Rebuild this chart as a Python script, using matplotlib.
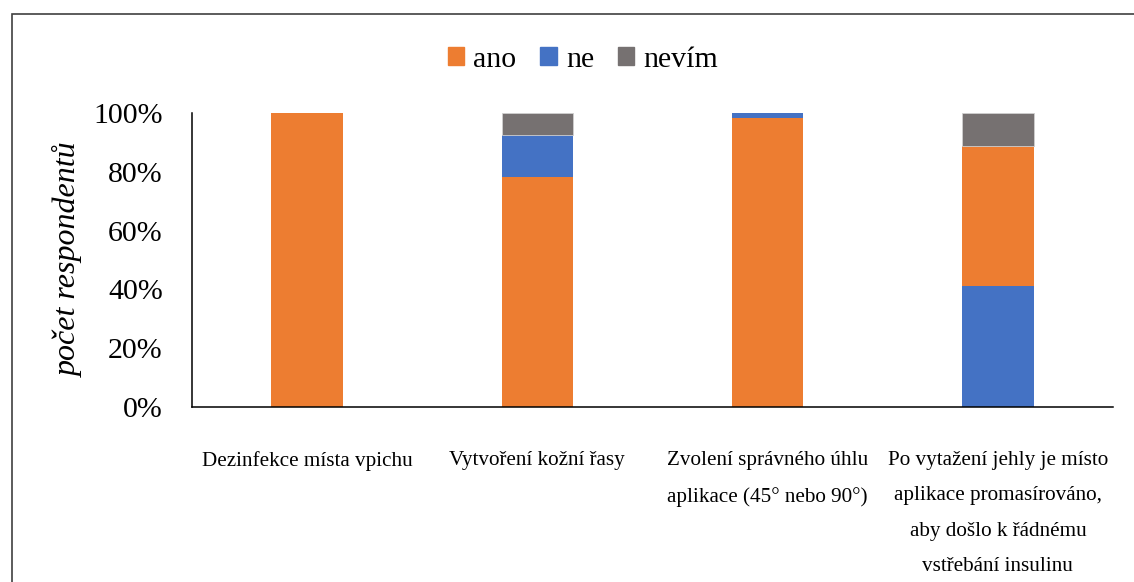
import matplotlib
matplotlib.use("Agg")
import matplotlib.pyplot as plt
from matplotlib.patches import Rectangle
import numpy as np

plt.rcParams["font.family"] = ["Liberation Serif", "DejaVu Serif"]

categories = [
    "Dezinfekce místa vpichu",
    "Vytvoření kožní řasy",
    "Zvolení správného úhlu\naplikace (45° nebo 90°)",
    "Po vytažení jehly je místo\naplikace promasírováno,\naby došlo k řádnému\nvstřebání insulinu",
]
series_names = ["ano", "ne", "nevím"]
ano = [1.00, 0.782, 0.982, 0.473]
ne = [0.00, 0.143, 0.018, 0.413]
nevim = [0.00, 0.075, 0.00, 0.114]
# stacking order from the bottom for each bar (last bar starts with "ne")
stack_order = [
    ["ano", "ne", "nevím"],
    ["ano", "ne", "nevím"],
    ["ano", "ne", "nevím"],
    ["ne", "ano", "nevím"],
]

values = {"ano": ano, "ne": ne, "nevím": nevim}
colors = {"ano": "#ED7D31", "ne": "#4472C4", "nevím": "#767171"}

fig = plt.figure(figsize=(11.34, 5.82), dpi=100)
ax = fig.add_axes([0.1693, 0.3007, 0.8122, 0.5052])

x = np.arange(len(categories))
width = 0.31
for i in x:
    bottom = 0.0
    for name in stack_order[i]:
        v = values[name][i]
        if v > 0:
            ax.bar(i, v, width, bottom=bottom, color=colors[name],
                   edgecolor="#d0d0d0" if name == "nevím" else "none",
                   linewidth=0.6)
        bottom += v

ax.set_xlim(-0.5, len(categories) - 0.5)
ax.set_ylim(0, 1)
ax.set_yticks(np.linspace(0, 1, 6))
ax.set_yticklabels([f"{int(round(t * 100))}%" for t in np.linspace(0, 1, 6)], fontsize=21.5)
ax.tick_params(axis="y", length=0, pad=21)
ax.set_xticks(x)
ax.set_xticklabels(categories, fontsize=15.2, linespacing=2.17)
ax.tick_params(axis="x", length=0, pad=31.5)
ax.set_ylabel("počet respondentů", fontsize=23, style="italic", labelpad=7)

for s in ("top", "right"):
    ax.spines[s].set_visible(False)
for s in ("left", "bottom"):
    ax.spines[s].set_linewidth(1.1)
    ax.spines[s].set_color("black")

handles = [Rectangle((0, 0), 1, 1, color=colors[n]) for n in series_names]
fig.legend(handles, series_names, loc="center", bbox_to_anchor=(583 / 1134, 1 - 60 / 582),
           ncol=3, frameon=False, fontsize=21.5, handlelength=0.55, handleheight=0.55,
           handletextpad=0.3, columnspacing=0.8)

# outer chart frame (only top and left edges visible in the crop)
fig.add_artist(Rectangle((12 / 1134, -0.1), 1.2, 1.1 - 14 / 582, transform=fig.transFigure,
                         fill=False, edgecolor="#404040", linewidth=1.2))

fig.savefig("out.png", dpi=100)
